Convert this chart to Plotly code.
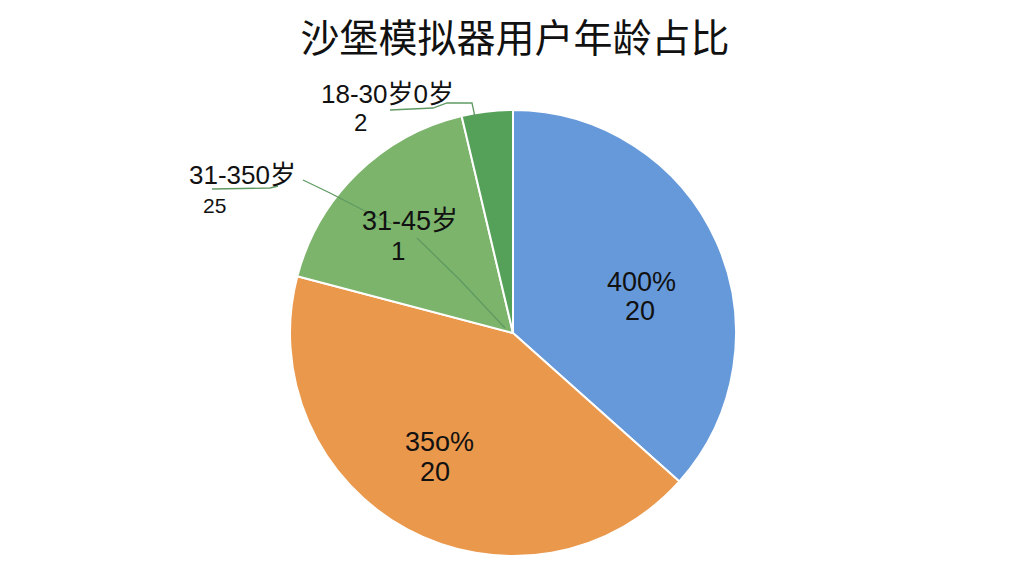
import plotly.graph_objects as go

title = "沙堡模拟器用户年龄占比"
groups = ["蓝", "橙", "31-45岁", "18-30岁"]
shares = [36.6, 42.5, 17.2, 3.7]
colors = ["#6699d9", "#e9984c", "#7cb46c", "#56a15a"]

# labels as they appear on the chart (text, x px, y px, size)
label_lines = [
    ("400%", 641, 282, 27),
    ("20", 640, 311, 27),
    ("35o%", 439, 442, 27),
    ("20", 435, 472, 27),
    ("31-45岁", 410, 221, 27),
    ("1", 398, 251, 26),
    ("31-350岁", 242, 175, 26),
    ("25", 214, 206, 21),
    ("18-30岁0岁", 387, 94, 26),
    ("2", 360, 122, 24),
]

W, H = 1024, 576
cx, cy, r = 513, 333, 223

fig = go.Figure(go.Pie(
    labels=groups,
    values=shares,
    sort=False,
    direction="clockwise",
    rotation=0,
    marker=dict(colors=colors, line=dict(color="white", width=2)),
    textinfo="none",
    hoverinfo="label+percent",
    showlegend=False,
    domain=dict(x=[(cx - r) / W, (cx + r) / W], y=[(H - cy - r) / H, (H - cy + r) / H]),
))

font_family = "Liberation Sans, Noto Sans CJK SC, sans-serif"

for txt, px_, py_, sz in label_lines:
    fig.add_annotation(
        x=px_ / W, y=1 - py_ / H, xref="paper", yref="paper",
        xanchor="center", yanchor="middle",
        text=txt, showarrow=False,
        font=dict(size=sz, color="#111111", family=font_family),
    )


def pt(x, y):
    return x / W, 1 - y / H


# leader lines, pixel coords
line_style = dict(color="#5f9a62", width=1.3)
leaders = [
    [(212, 189), (270, 188), (278, 186)],
    [(303, 180), (330, 193), (363, 210), (392, 224)],
    [(417, 238), (460, 280), (505, 328)],
    [(390, 110), (433, 108), (447, 103), (472, 103), (475, 117)],
]
for seg in leaders:
    path = "M " + " L ".join(f"{pt(x, y)[0]},{pt(x, y)[1]}" for x, y in seg)
    fig.add_shape(type="path", path=path, xref="paper", yref="paper", line=line_style)

fig.update_layout(
    width=W, height=H,
    margin=dict(l=0, r=0, t=0, b=0),
    paper_bgcolor="white",
    plot_bgcolor="white",
    title=dict(
        text=title, x=515 / W, y=1 - 38 / H, xanchor="center", yanchor="middle",
        font=dict(size=39, color="#111111", family="Noto Sans CJK SC, sans-serif"),
    ),
)

fig.write_html(
    "out.html",
    config={"displayModeBar": False},
    post_script="document.body.style.margin='0px';",
)
